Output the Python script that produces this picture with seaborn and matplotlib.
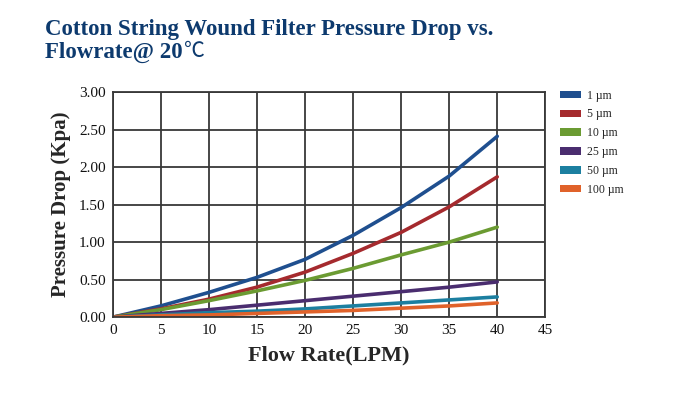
import matplotlib
matplotlib.use("Agg")
import matplotlib.pyplot as plt
import seaborn as sns
import pandas as pd
from matplotlib.patches import Patch

flow = [0, 5, 10, 15, 20, 25, 30, 35, 40]
series_names = ["1 \u00b5m", "5 \u00b5m", "10 \u00b5m", "25 \u00b5m", "50 \u00b5m", "100 \u00b5m"]
p_1um = [0.00, 0.15, 0.33, 0.53, 0.77, 1.09, 1.46, 1.88, 2.41]
p_5um = [0.00, 0.11, 0.24, 0.40, 0.60, 0.85, 1.13, 1.47, 1.87]
p_10um = [0.00, 0.10, 0.22, 0.35, 0.49, 0.65, 0.83, 1.00, 1.20]
p_25um = [0.00, 0.05, 0.10, 0.16, 0.22, 0.28, 0.34, 0.40, 0.47]
p_50um = [0.00, 0.03, 0.06, 0.08, 0.11, 0.15, 0.19, 0.23, 0.27]
p_100um = [0.00, 0.02, 0.03, 0.05, 0.07, 0.09, 0.12, 0.15, 0.19]
x_ticks = [0, 5, 10, 15, 20, 25, 30, 35, 40, 45]
y_ticks = [0.0, 0.5, 1.0, 1.5, 2.0, 2.5, 3.0]

colors = ["#1f4f8f", "#a52a2e", "#6b9b32", "#4a2d6f", "#1c7fa0", "#e0622a"]

rows = []
for name, vals in zip(series_names, [p_1um, p_5um, p_10um, p_25um, p_50um, p_100um]):
    for f, v in zip(flow, vals):
        rows.append({"flow": f, "dp": v, "series": name})
df = pd.DataFrame(rows)

sns.set_style("white")
plt.rcParams["font.family"] = ["Liberation Serif", "DejaVu Serif"]

fig = plt.figure(figsize=(7.0, 3.95), dpi=100)
ax = fig.add_axes([0.161, 0.197, 0.618, 0.570])

sns.lineplot(data=df, x="flow", y="dp", hue="series", hue_order=series_names,
             palette=colors, linewidth=2.6, ax=ax, legend=False)

ax.set_xlim(0, 45)
ax.set_ylim(0, 3.0)
ax.set_xticks(x_ticks)
ax.set_yticks(y_ticks)
ax.set_xticklabels([str(t) for t in x_ticks], fontsize=11)
ax.set_yticklabels([f"{t:.2f}" for t in y_ticks], fontsize=11)
ax.grid(True, color="#383838", linewidth=1.3)
ax.set_axisbelow(True)
for s in ax.spines.values():
    s.set_color("#383838")
    s.set_linewidth(1.3)
ax.tick_params(axis="both", length=0, pad=5, colors="#111111")

ax.set_xlabel("Flow Rate(LPM)", fontsize=16, fontweight="bold", labelpad=6)
ax.set_ylabel("Pressure Drop (Kpa)", fontsize=15, fontweight="bold", labelpad=6)

fig.text(0.064, 0.925, "Cotton String Wound Filter Pressure Drop vs.", fontsize=16.5,
         fontweight="bold", color="#0d3a6e", va="center")
fig.text(0.064, 0.868, "Flowrate@ 20", fontsize=16.5,
         fontweight="bold", color="#0d3a6e", va="center")
fig.text(0.263, 0.870, "\u2103", fontsize=15, fontweight="normal", color="#0d3a6e",
         va="center", family=["Noto Sans CJK SC", "DejaVu Sans"])

handles = [Patch(facecolor=c, edgecolor="none") for c in colors]
leg = fig.legend(handles, series_names, loc="upper left", bbox_to_anchor=(0.785, 0.8),
                 frameon=False, fontsize=8.5, handlelength=1.8, handleheight=0.6,
                 labelspacing=0.58, handletextpad=0.5)

fig.savefig("out.png", dpi=100)
